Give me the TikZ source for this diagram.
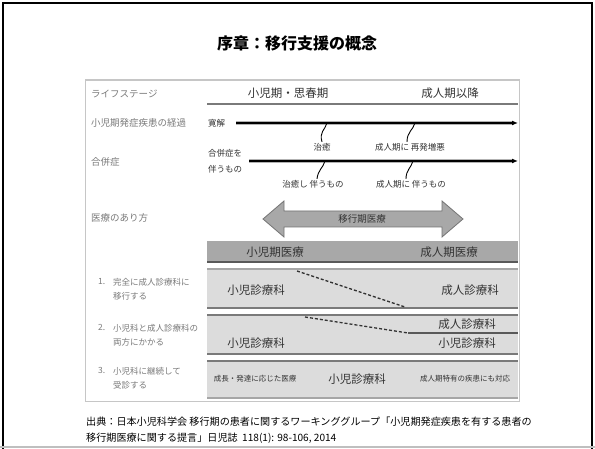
\documentclass[tikz,border=0pt]{standalone}
\usepackage{fontspec}
\setmainfont{Noto Sans CJK JP}
\usetikzlibrary{arrows.meta}
\definecolor{lgray}{HTML}{DCDCDC}
\definecolor{mgray}{HTML}{A8A8A8}
\definecolor{dgray}{HTML}{7A7A7A}
\definecolor{ltxt}{HTML}{7A7A7A}
\definecolor{dtxt}{HTML}{333333}
\begin{document}
\begin{tikzpicture}[x=1pt,y=-1pt,
  side/.style={anchor=west,text=ltxt,font=\fontsize{9.5}{11}\selectfont,inner sep=0pt},
  numlbl/.style={anchor=north west,text=ltxt,font=\fontsize{8.5}{14}\selectfont,inner sep=0pt,align=left},
  big/.style={text=dtxt,font=\fontsize{11.5}{13}\selectfont,inner sep=1pt},
  small/.style={text=dtxt,font=\fontsize{7.5}{9}\selectfont,inner sep=1pt},
  course/.style={text=dtxt,font=\fontsize{8.5}{16}\selectfont,inner sep=1pt,align=left},
  sepline/.style={draw=dgray,line width=2.2pt},
  halo/.style={draw=gray!60,line width=3.2pt},
  cline/.style={draw=black,line width=1.3pt,-{Latex[length=6pt,width=5pt]}},
  branch/.style={draw=black,line width=0.9pt},
  dotted line/.style={draw=dtxt,line width=1.3pt,dash pattern=on 3pt off 2pt},
]
\useasboundingbox (0,0) rectangle (595,449);
\fill[white] (0,0) rectangle (595,449);
% outer frame
\draw[line width=2pt] (3,449) -- (3,3) -- (592,3) -- (592,449);
\draw[gray!50,line width=1.5pt] (0,447) -- (595,447);
% title
\node[font=\fontsize{16}{18}\selectfont\bfseries] (title) at (297,43) {序章：移行支援の概念};
% inner frame
\draw[gray!45,line width=1pt] (85,80) rectangle (519,401);
\draw[gray!45,line width=2pt] (85,80) -- (519,80);
% header
\node[side] (ls) at (91,94) {ライフステージ};
\node[big] (h1) at (288,93) {小児期・思春期};
\node[big] (h2) at (450,93) {成人期以降};
\draw[sepline] (207,104) -- (518,104);
% left labels
\node[side] (keika) at (91,123) {小児期発症疾患の経過};
\node[side] (gp) at (91,162) {合併症};
\node[side] (iryo) at (91,218) {医療のあり方};
% course line 1
\node[course,anchor=west] (kan) at (207,123) {寛解};
\coordinate (e1) at (518,123);
\coordinate (b1) at (327,123);
\coordinate (b2) at (415,123);
\draw[halo] ([xshift=10pt]kan.east) -- ([xshift=-4pt]e1);
\draw[cline] ([xshift=10pt]kan.east) -- (e1);
\node[course] (chiyu) at (322,147) {治癒};
\node[course] (saihatsu) at (410,147) {成人期に\ 再発増悪};
\draw[branch] (b1) .. controls (325,130) and (319,132) .. (chiyu.north);
\draw[branch] (b2) .. controls (413,130) and (407,132) .. ([xshift=-3pt]saihatsu.north);
% course line 2
\node[course,anchor=west] (gappei) at (207,161) {合併症を\\伴うもの};
\coordinate (e2) at (518,161);
\coordinate (c1) at (325,161);
\coordinate (c2) at (413,161);
\draw[halo] ([xshift=6pt]gappei.east) -- ([xshift=-4pt]e2);
\draw[cline] ([xshift=6pt]gappei.east) -- (e2);
\node[course] (chiyu2) at (313,184) {治癒し\ 伴うもの};
\node[course] (seijin2) at (411,184) {成人期に\ 伴うもの};
\draw[branch] (c1) .. controls (323,168) and (318,170) .. ([xshift=4pt]chiyu2.north);
\draw[branch] (c2) .. controls (411,168) and (406,170) .. ([xshift=-5pt]seijin2.north);
% double arrow
\draw[fill=mgray,draw=gray!90!black,line width=0.8pt]
  (263,219) -- (284,201) -- (284,211) -- (442,211) -- (442,201) -- (463,219)
  -- (442,237) -- (442,227) -- (284,227) -- (284,237) -- cycle;
\node[text=dtxt,font=\fontsize{9.5}{11}\selectfont] (ikou) at (362,219) {移行期医療};
% medical bar
\fill[mgray] (207,241) rectangle (518,262);
\draw[draw=gray!70!black,line width=2.2pt] (207,262) -- (518,262);
\node[big] (shouni) at (275,252) {小児期医療};
\node[big] (seijin) at (449,252) {成人期医療};
% row 1
\fill[lgray] (207,269) rectangle (518,308);
\draw[draw=gray!70,line width=2pt] (207,269) -- (518,269);
\draw[sepline] (207,308) -- (518,308);
\draw[dotted line] (297,271) -- (405,307);
\node[big] (r1a) at (256,290) {小児診療科};
\node[big] (r1b) at (470,290) {成人診療科};
% row 2
\fill[lgray] (207,315) rectangle (518,354);
\draw[sepline] (207,315) -- (518,315);
\draw[sepline] (207,354) -- (518,354);
\draw[dotted line] (305,317) -- (408,333);
\draw[draw=gray!70!black,line width=2pt] (408,333) -- (518,333);
\node[big] (r2a) at (256,343) {小児診療科};
\node[big] (r2b) at (467,324) {成人診療科};
\node[big] (r2c) at (467,343) {小児診療科};
% row 3
\fill[lgray] (207,361) rectangle (518,398);
\draw[sepline] (207,361) -- (518,361);
\draw[draw=gray!70,line width=2pt] (207,398) -- (518,398);
\node[small] (r3a) at (255,379) {成長・発達に応じた医療};
\node[big] (r3b) at (357,379) {小児診療科};
\node[small] (r3c) at (465,379) {成人期特有の疾患にも対応};
% numbered labels
\node[numlbl] (n1) at (98,278) {1.};
\node[numlbl] (t1) at (113,278) {完全に成人診療科に\\移行する};
\node[numlbl] (n2) at (98,324) {2.};
\node[numlbl] (t2) at (113,324) {小児科と成人診療科の\\両方にかかる};
\node[numlbl] (n3) at (98,367) {3.};
\node[numlbl] (t3) at (113,367) {小児科に継続して\\受診する};
% footer
\node[anchor=north west,font=\fontsize{10.1}{16}\selectfont,align=left,inner sep=0pt] (src) at (86,417)
  {出典：日本小児科学会 移行期の患者に関するワーキンググループ「小児期発症疾患を有する患者の\\移行期医療に関する提言」日児誌\ \ 118(1): 98-106, 2014};
\end{tikzpicture}
\end{document}
